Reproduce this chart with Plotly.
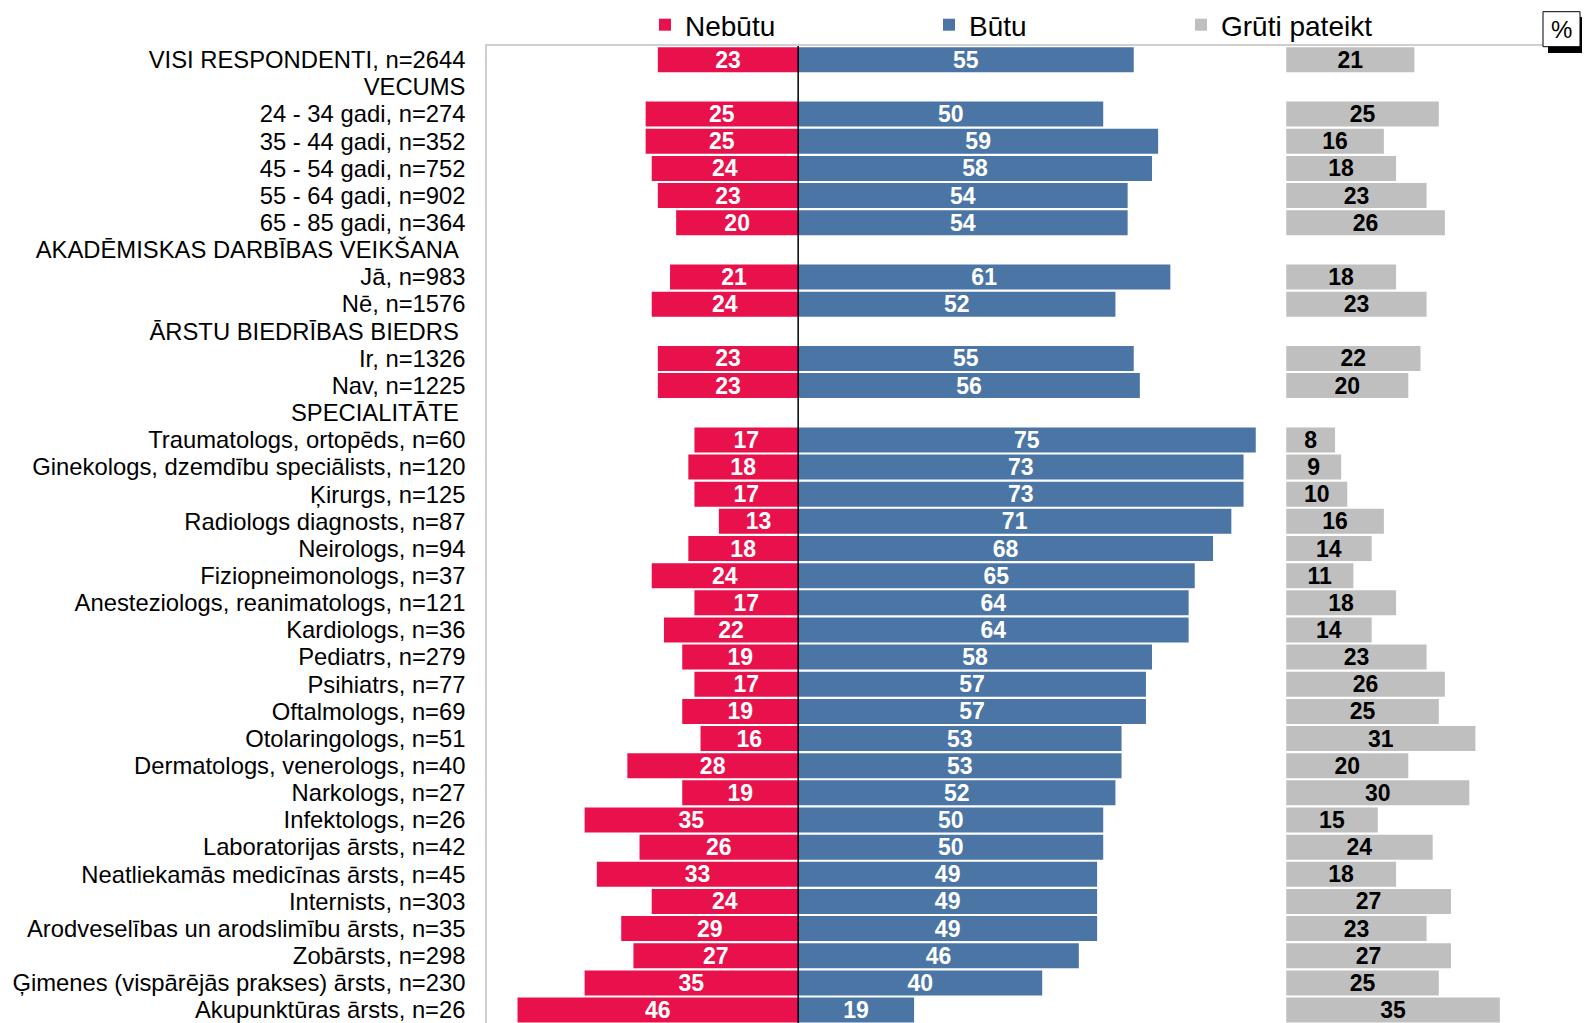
import plotly.graph_objects as go

NBSP = "\u00a0"

categories = [
    "VISI RESPONDENTI, n=2644",
    "VECUMS",
    "24 - 34 gadi, n=274",
    "35 - 44 gadi, n=352",
    "45 - 54 gadi, n=752",
    "55 - 64 gadi, n=902",
    "65 - 85 gadi, n=364",
    "AKADĒMISKAS DARBĪBAS VEIKŠANA" + NBSP,
    "Jā, n=983",
    "Nē, n=1576",
    "ĀRSTU BIEDRĪBAS BIEDRS" + NBSP,
    "Ir, n=1326",
    "Nav, n=1225",
    "SPECIALITĀTE" + NBSP,
    "Traumatologs, ortopēds, n=60",
    "Ginekologs, dzemdību speciālists, n=120",
    "Ķirurgs, n=125",
    "Radiologs diagnosts, n=87",
    "Neirologs, n=94",
    "Fiziopneimonologs, n=37",
    "Anesteziologs, reanimatologs, n=121",
    "Kardiologs, n=36",
    "Pediatrs, n=279",
    "Psihiatrs, n=77",
    "Oftalmologs, n=69",
    "Otolaringologs, n=51",
    "Dermatologs, venerologs, n=40",
    "Narkologs, n=27",
    "Infektologs, n=26",
    "Laboratorijas ārsts, n=42",
    "Neatliekamās medicīnas ārsts, n=45",
    "Internists, n=303",
    "Arodveselības un arodslimību ārsts, n=35",
    "Zobārsts, n=298",
    "Ģimenes (vispārējās prakses) ārsts, n=230",
    "Akupunktūras ārsts, n=26",
]

nebutu = [23, None, 25, 25, 24, 23, 20, None, 21, 24, None, 23, 23, None,
          17, 18, 17, 13, 18, 24, 17, 22, 19, 17, 19, 16, 28, 19, 35, 26, 33, 24, 29, 27, 35, 46]
butu = [55, None, 50, 59, 58, 54, 54, None, 61, 52, None, 55, 56, None,
        75, 73, 73, 71, 68, 65, 64, 64, 58, 57, 57, 53, 53, 52, 50, 50, 49, 49, 49, 46, 40, 19]
gruti = [21, None, 25, 16, 18, 23, 26, None, 18, 23, None, 22, 20, None,
         8, 9, 10, 16, 14, 11, 18, 14, 23, 26, 25, 31, 20, 30, 15, 24, 18, 27, 23, 27, 25, 35]

series_names = ["Nebūtu", "Būtu", "Grūti pateikt"]
colors = ["#E8114B", "#4A75A5", "#BFBFBF"]

GRAY_BASE = 80  # where the "Grūti pateikt" column starts on the value axis

def txt(vals):
    return ["" if v is None else str(v) for v in vals]

FONT = "Liberation Sans, Arial, sans-serif"

fig = go.Figure()
fig.add_trace(go.Bar(
    y=categories, x=[None if v is None else -v for v in nebutu], orientation="h",
    name=series_names[0], marker=dict(color=colors[0], line=dict(width=0)),
    text=txt(nebutu), textposition="inside", insidetextanchor="middle", textangle=0,
    textfont=dict(family=FONT, size=23, color="white", weight="bold"),
    legend="legend",
))
fig.add_trace(go.Bar(
    y=categories, x=butu, orientation="h",
    name=series_names[1], marker=dict(color=colors[1], line=dict(width=0)),
    text=txt(butu), textposition="inside", insidetextanchor="middle", textangle=0,
    textfont=dict(family=FONT, size=23, color="white", weight="bold"),
    legend="legend2",
))
fig.add_trace(go.Bar(
    y=categories, x=gruti, base=GRAY_BASE, orientation="h",
    name=series_names[2], marker=dict(color=colors[2], line=dict(width=0)),
    text=txt(gruti), textposition="inside", insidetextanchor="middle", textangle=0,
    textfont=dict(family=FONT, size=23, color="black", weight="bold"),
    legend="legend3",
))

# The page body adds an 8px offset; design in screen pixels and compensate.
OFF = 8
SW, SH = 1590, 1023
W, H = SW - OFF, SH - OFF
S_L, S_T, S_R = 487, 46, 1584          # plot area edges in screen px
L, T = S_L - OFF, S_T - OFF
R = W - (S_R - OFF)
B = 0
pw, ph = W - L - R, H - T - B

def px_x(p):  # screen px -> paper x
    return (p - OFF - L) / pw

def px_y(p):  # screen px -> paper y
    return (H - B - (p - OFF)) / ph

row_px = 27.15
top_rows = (59.8 - S_T) / row_px
rng_bottom = -top_rows + ph / row_px

legend_common = dict(orientation="h", xref="paper", yref="paper",
                     xanchor="left", yanchor="top", y=px_y(0),
                     font=dict(family=FONT, size=28, color="black"),
                     bgcolor="rgba(0,0,0,0)", borderwidth=0)

fig.update_layout(
    width=W, height=H,
    margin=dict(l=L, r=R, t=T, b=B, pad=0, autoexpand=False),
    paper_bgcolor="white", plot_bgcolor="white",
    barmode="overlay", bargap=0.08,
    showlegend=True,
    uniformtext=dict(minsize=23, mode="show"),
    font=dict(family=FONT, size=24, color="black"),
    legend=dict(x=px_x(637 + OFF), **legend_common),
    legend2=dict(x=px_x(921 + OFF), **legend_common),
    legend3=dict(x=px_x(1173 + OFF), **legend_common),
    xaxis=dict(range=[-51, 128.8], side="top", showticklabels=False, ticks="",
               showgrid=False, zeroline=False, showline=True, linecolor="#CFCFCF",
               linewidth=1.5, mirror=False, fixedrange=True, automargin=False),
    yaxis=dict(type="category", categoryorder="array", categoryarray=categories,
               tickmode="linear", tick0=0, dtick=1, automargin=False,
               range=[rng_bottom, -top_rows], showgrid=False, zeroline=False,
               showline=True, linecolor="#CFCFCF", linewidth=1.5, mirror=True,
               ticks="", ticklabelstandoff=15,
               tickfont=dict(family=FONT, size=23.8, color="black"), fixedrange=True),
    shapes=[
        dict(type="line", xref="x", yref="paper", x0=0, x1=0, y0=0, y1=1,
             line=dict(color="black", width=1.5), layer="above"),
        # "%" box shadow and box
        dict(type="rect", xref="paper", yref="paper",
             x0=px_x(1548), x1=px_x(1586), y0=px_y(53), y1=px_y(17),
             fillcolor="black", line=dict(width=0), layer="above"),
        dict(type="rect", xref="paper", yref="paper",
             x0=px_x(1543), x1=px_x(1580), y0=px_y(46.7), y1=px_y(11.7),
             fillcolor="white", line=dict(color="black", width=1), layer="above"),
    ],
    annotations=[
        dict(text="%", xref="paper", yref="paper", x=px_x(1561.5), y=px_y(29.5),
             xanchor="center", yanchor="middle", showarrow=False,
             font=dict(family=FONT, size=24, color="black")),
    ],
)

fig.write_html("out.html")
